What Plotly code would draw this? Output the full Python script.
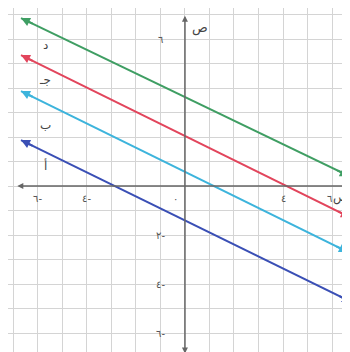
import plotly.graph_objects as go

# four parallel lines (left and right arrow tips)
line_labels = ["د", "جـ", "ب", "أ"]
x_left = [-6.69, -6.69, -6.69, -6.69]
y_left = [6.86, 5.35, 3.88, 1.88]
x_right = [6.69, 6.73, 6.65, 6.78]
y_right = [0.41, -1.27, -2.69, -4.73]
label_x = [-5.7, -5.7, -5.7, -5.7]
label_y = [5.76, 4.33, 2.49, 0.86]
colors = ["#3f9e63", "#e2455c", "#3db4dc", "#3a4fb5"]

# tick labels (eastern arabic digits)
xtick_vals = [-6, -4, 4, 5.9]
xtick_text = ["٦-", "٤-", "٤", "٦"]
ytick_vals = [6, -2, -4, -6]
ytick_text = ["٦", "٢-", "٤-", "٦-"]

axis_color = "#666666"
fig = go.Figure()

for i in range(len(line_labels)):
    fig.add_trace(go.Scatter(x=[x_left[i], x_right[i]], y=[y_left[i], y_right[i]],
                             mode="lines", line=dict(color=colors[i], width=2),
                             showlegend=False, hoverinfo="skip"))
    # arrow heads at both ends
    dx = x_right[i] - x_left[i]
    dy = y_right[i] - y_left[i]
    for tip, tail in [((x_right[i], y_right[i]), (x_right[i] - 0.04 * dx, y_right[i] - 0.04 * dy)),
                      ((x_left[i], y_left[i]), (x_left[i] + 0.04 * dx, y_left[i] + 0.04 * dy))]:
        fig.add_annotation(x=tip[0], y=tip[1], ax=tail[0], ay=tail[1], axref="x", ayref="y",
                           xref="x", yref="y", text="", showarrow=True, arrowhead=2,
                           arrowsize=0.9, arrowwidth=2, arrowcolor=colors[i])
    fig.add_annotation(x=label_x[i], y=label_y[i], text=line_labels[i], showarrow=False,
                       font=dict(family="DejaVu Sans", size=12, color="#444"))

# coordinate axes with arrows at both ends
fig.add_annotation(x=7.0, y=0, ax=-6.9, ay=0, axref="x", ayref="y", text="", showarrow=True,
                   arrowhead=2, arrowsize=0.8, arrowside="end+start", arrowwidth=1.5,
                   arrowcolor=axis_color)
fig.add_annotation(x=0, y=6.95, ax=0, ay=-6.9, axref="x", ayref="y", text="", showarrow=True,
                   arrowhead=2, arrowsize=0.8, arrowside="end+start", arrowwidth=1.5,
                   arrowcolor=axis_color)

for v, t in zip(xtick_vals, xtick_text):
    fig.add_annotation(x=v, y=-0.5, text=t, showarrow=False,
                       font=dict(family="DejaVu Sans", size=10, color="#555"))
for v, t in zip(ytick_vals, ytick_text):
    fig.add_annotation(x=-1.0, y=v, text=t, showarrow=False,
                       font=dict(family="DejaVu Sans", size=10, color="#555"))
fig.add_annotation(x=-0.37, y=-0.5, text="٠", showarrow=False,
                   font=dict(family="DejaVu Sans", size=10, color="#555"))
fig.add_annotation(x=0.6, y=6.45, text="ص", showarrow=False,
                   font=dict(family="DejaVu Sans", size=13, color="#444"))
fig.add_annotation(x=6.75, y=-0.45, text="س", showarrow=False, xanchor="right",
                   font=dict(family="DejaVu Sans", size=12, color="#444"))

grid = dict(showgrid=True, gridcolor="#d4d4d4", gridwidth=1, dtick=1, tick0=0,
            zeroline=False, showticklabels=False, ticks="", showline=False)
fig.update_layout(width=350, height=352, margin=dict(l=0, r=0, t=0, b=0),
                  plot_bgcolor="white", paper_bgcolor="white",
                  xaxis=dict(range=[-7.22, 7.06], **grid),
                  yaxis=dict(range=[-7.1, 7.27], **grid))

fig.write_html("out.html")
